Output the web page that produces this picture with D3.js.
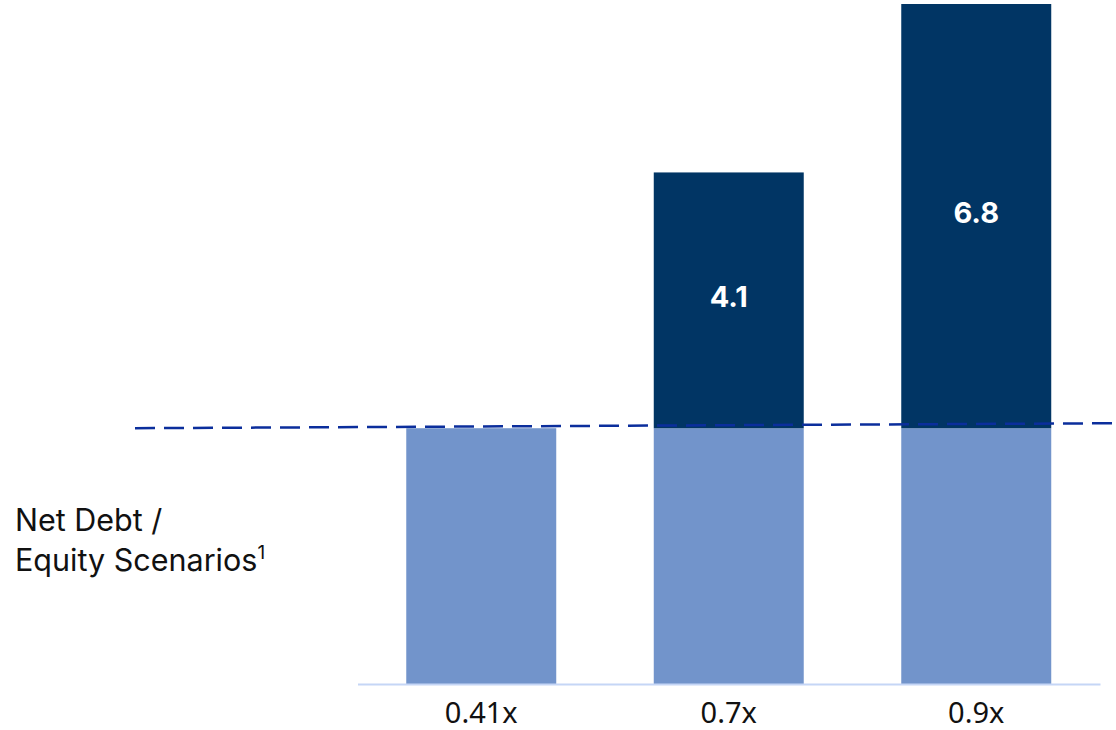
<!DOCTYPE html>
<html><head><meta charset="utf-8">
<script src="https://cdn.jsdelivr.net/npm/d3@7"></script>
<style>html,body{margin:0;padding:0;background:#fff;}svg{display:block;}</style>
</head><body>
<svg id="chart" width="1116" height="730"></svg>
<script>
const categories = ["0.41x", "0.7x", "0.9x"];
const baseValues = [4.1, 4.1, 4.1];
const topValues = [0, 4.1, 6.8];
const topLabels = ["", "4.1", "6.8"];
const sideTitle = ["Net Debt /", "Equity Scenarios"];

const svg = d3.select("#chart");
const x = d3.scaleBand().domain(categories).range([357.5, 1100]).paddingInner(0.394).paddingOuter(0.197);
const y = d3.scaleLinear().domain([0, 10.9]).range([684, 4]);

const rows = categories.map((c, i) => ({c, base: baseValues[i], top: topValues[i], label: topLabels[i]}));

// base bars
svg.selectAll("rect.base").data(rows).join("rect").attr("class", "base")
  .attr("x", d => x(d.c)).attr("width", x.bandwidth())
  .attr("y", d => y(d.base)).attr("height", d => y(0) - y(d.base))
  .attr("fill", "#7294cb");

// top bars
svg.selectAll("rect.top").data(rows.filter(d => d.top > 0)).join("rect").attr("class", "top")
  .attr("x", d => x(d.c)).attr("width", x.bandwidth())
  .attr("y", d => y(d.base + d.top)).attr("height", d => y(d.base) - y(d.base + d.top))
  .attr("fill", "#013564");

svg.selectAll("text.val").data(rows.filter(d => d.top > 0)).join("text").attr("class", "val")
  .attr("x", d => x(d.c) + x.bandwidth() / 2)
  .attr("y", d => (y(d.base) + y(d.base + d.top)) / 2 - 4)
  .attr("dy", "0.36em")
  .attr("text-anchor", "middle").attr("fill", "#fff")
  .attr("font-family", "Inter, Roboto, sans-serif").attr("font-weight", 700).attr("font-size", 29)
  .text(d => d.label);

// axis
const axis = svg.append("g").attr("transform", `translate(0,${y(0)})`)
  .call(d3.axisBottom(x).tickSize(0).tickPadding(18));
axis.select(".domain").attr("stroke", "#c5d6f6").attr("stroke-width", 2);
axis.selectAll("text").attr("font-family", "'Noto Sans', 'Open Sans', sans-serif")
  .attr("font-size", 29).attr("fill", "#111");

// dashed reference line
const yRef = y(baseValues[0]);
svg.append("line").attr("x1", 135).attr("x2", 1116)
  .attr("y1", yRef).attr("y2", yRef - 5)
  .attr("stroke", "#0b2e9c").attr("stroke-width", 2.5).attr("stroke-dasharray", "20,9");

// side title
const t = svg.append("text").attr("font-family", "Inter, 'Liberation Sans', Arial, sans-serif")
  .attr("font-size", 30.5).attr("fill", "#111");
t.append("tspan").attr("x", 15).attr("y", 531).text(sideTitle[0]);
t.append("tspan").attr("x", 15).attr("y", 571).text(sideTitle[1]);
t.append("tspan").attr("font-size", 19).attr("dy", -12).text("1");
</script>
</body></html>
